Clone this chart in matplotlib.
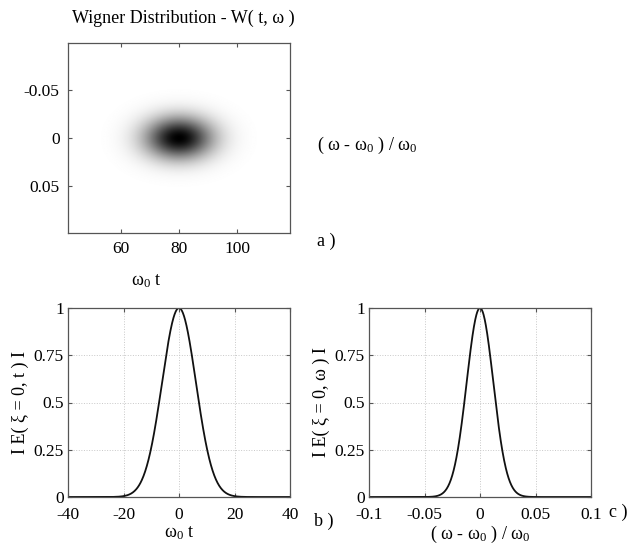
import numpy as np
import matplotlib
matplotlib.use("Agg")
import matplotlib.pyplot as plt

plt.rcParams['font.family'] = ['Liberation Serif', 'DejaVu Serif']
plt.rcParams['mathtext.fontset'] = 'custom'
plt.rcParams['mathtext.rm'] = 'Liberation Serif'
plt.rcParams['mathtext.it'] = 'Liberation Serif:italic'
plt.rcParams['axes.unicode_minus'] = False

# ---- data ----
# Gaussian pulse: peak positions and rms widths
pulse_center = 0.0           # centre of |E(t)| (ω0 t units)
pulse_sigma = 6.1            # rms width of |E(t)|
spec_center = 0.0            # centre of |E(ω)| in (ω-ω0)/ω0
spec_sigma = 0.0120          # rms width of |E(ω)|
peak_value = 1.0

map_center_t = 80.0          # centre of the Wigner blob along ω0 t
map_center_w = 0.0           # centre of the Wigner blob along (ω-ω0)/ω0
map_sigma_t = 8.0            # apparent blob width along ω0 t
map_sigma_w = 0.015          # apparent blob width along (ω-ω0)/ω0

map_t_limits = [42, 118]
map_w_limits = [0.098, -0.098]
map_xticks = [60, 80, 100]
map_yticks = [-0.05, 0, 0.05]
map_yticklabels = ['-0.05', '0', '0.05']

b_xticks = [-40, -20, 0, 20, 40]
b_yticks = [0, 0.25, 0.5, 0.75, 1]
b_yticklabels = ['0', '0.25', '0.5', '0.75', '1']
c_xticks = [-0.1, -0.05, 0, 0.05, 0.1]
c_xticklabels = ['-0.1', '-0.05', '0', '0.05', '0.1']

# ---- curves ----
t = np.linspace(-40, 40, 801)
Et = peak_value * np.exp(-(t - pulse_center) ** 2 / (2 * pulse_sigma ** 2))
w = np.linspace(-0.1, 0.1, 801)
Ew = peak_value * np.exp(-(w - spec_center) ** 2 / (2 * spec_sigma ** 2))

tm = np.linspace(map_t_limits[0], map_t_limits[1], 400)
wm = np.linspace(map_w_limits[1], map_w_limits[0], 400)
Wt = np.exp(-(tm - map_center_t) ** 2 / (2 * map_sigma_t ** 2))
Ww = np.exp(-(wm - map_center_w) ** 2 / (2 * map_sigma_w ** 2))
W = peak_value * np.outer(Ww, Wt)

fig = plt.figure(figsize=(6.36, 5.48), dpi=100)
frame_col = '#555555'
tick_fs = 12.5
lab_fs = 13

def style(ax):
    for s in ax.spines.values():
        s.set_color(frame_col)
        s.set_linewidth(0.9)
    ax.tick_params(direction='in', top=True, right=True, length=3,
                   color=frame_col, labelsize=tick_fs, pad=3)
    ax.tick_params(axis='x', pad=7)

# (a) Wigner map
ax = fig.add_axes([68/636, 1-233/548, 222/636, 190/548])
ax.imshow(W, cmap='gray_r', extent=[map_t_limits[0], map_t_limits[1], map_w_limits[1], map_w_limits[0]],
          origin='lower', aspect='auto', vmin=0, vmax=1, interpolation='bilinear')
ax.set_xlim(map_t_limits)
ax.set_ylim(map_w_limits)
ax.set_xticks(map_xticks)
ax.set_yticks(map_yticks)
ax.set_yticklabels(map_yticklabels)
style(ax)
ax.tick_params(pad=6)
fig.text(183/636, 1-18/548, 'Wigner Distribution - W( t, ω )', ha='center', va='center', fontsize=lab_fs)
fig.text(367/636, 1-145/548, '( ω - ω$_0$ ) / ω$_0$', ha='center', va='center', fontsize=lab_fs)
fig.text(326/636, 1-241/548, 'a )', ha='center', va='center', fontsize=lab_fs)
fig.text(146/636, 1-281/548, 'ω$_0$ t', ha='center', va='center', fontsize=lab_fs)

# (b) |E(t)|
ax = fig.add_axes([68/636, 1-497/548, 222/636, 189/548])
ax.plot(t, Et, color='#111111', lw=1.3)
ax.set_xlim(-40, 40)
ax.set_ylim(0, 1)
ax.set_xticks(b_xticks)
ax.set_yticks(b_yticks)
ax.set_yticklabels(b_yticklabels)
ax.grid(True, color='#c8c8c8', ls=':', lw=0.7)
style(ax)
ax.set_xlabel('ω$_0$ t', fontsize=lab_fs, labelpad=1)
ax.set_ylabel('I E( ξ = 0, t ) I', fontsize=lab_fs, labelpad=3)
fig.text(324/636, 1-521/548, 'b )', ha='center', va='center', fontsize=lab_fs)

# (c) |E(ω)|
ax = fig.add_axes([369/636, 1-497/548, 222/636, 189/548])
ax.plot(w, Ew, color='#111111', lw=1.3)
ax.set_xlim(-0.1, 0.1)
ax.set_ylim(0, 1)
ax.set_xticks(c_xticks)
ax.set_xticklabels(c_xticklabels)
ax.set_yticks(b_yticks)
ax.set_yticklabels(b_yticklabels)
ax.grid(True, color='#c8c8c8', ls=':', lw=0.7)
style(ax)
ax.set_xlabel('( ω - ω$_0$ ) / ω$_0$', fontsize=lab_fs, labelpad=1)
ax.set_ylabel('I E( ξ = 0, ω ) I', fontsize=lab_fs, labelpad=3)
fig.text(618/636, 1-512/548, 'c )', ha='center', va='center', fontsize=lab_fs)

fig.savefig('out.png', dpi=100)
